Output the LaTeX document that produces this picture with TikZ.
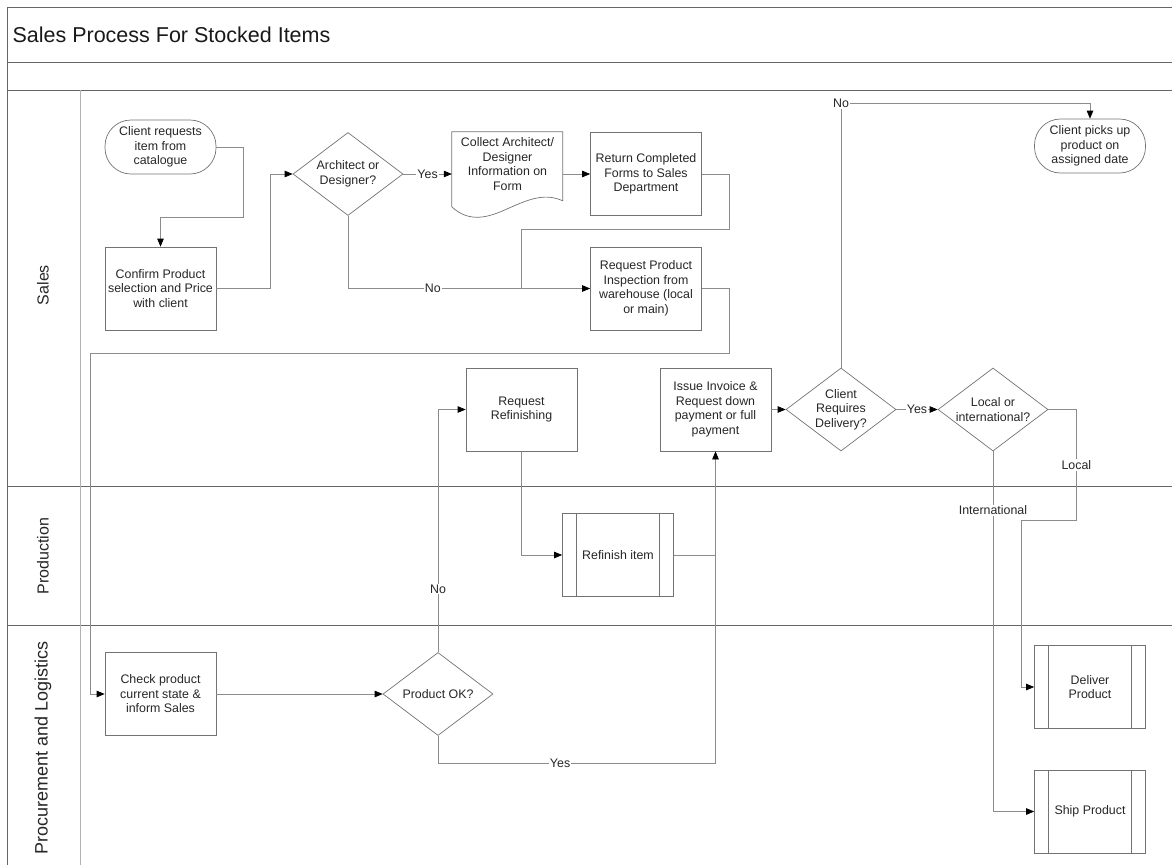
\documentclass[tikz,border=0pt]{standalone}
\usepackage{fontspec}
\setmainfont{Liberation Sans}
\usetikzlibrary{shapes.geometric,arrows.meta,calc}

\begin{document}
\begin{tikzpicture}[x=1pt,y=-1pt,
  txt/.style={font=\fontsize{12.4}{14.5}\selectfont, align=center, text=black!85},
  frame/.style={draw=black!60, line width=0.8pt},
  shapeline/.style={draw=black!55, line width=0.7pt},
  box/.style={txt, shapeline, rectangle, minimum width=111pt, minimum height=83pt, inner sep=2pt},
  subproc/.style={box, minimum height=83pt,
    path picture={\draw[shapeline]
      ([xshift=14pt]path picture bounding box.north west) -- ([xshift=14pt]path picture bounding box.south west)
      ([xshift=-14pt]path picture bounding box.north east) -- ([xshift=-14pt]path picture bounding box.south east);}},
  term/.style={txt, shapeline, rectangle, rounded corners=26pt, minimum width=111pt, minimum height=54pt, inner sep=1pt},
  dec/.style={shapeline, diamond, aspect=1.33, minimum width=110pt, minimum height=83pt, inner sep=0pt},
  conn/.style={draw=black!45, line width=0.7pt},
  arr/.style={conn, -{Triangle[length=8pt,width=6.5pt,color=black]}},
  lbl/.style={txt, fill=white, inner sep=1pt},
  lane/.style={font=\fontsize{16}{19}\selectfont, rotate=90, text=black!85}]

\useasboundingbox (0,0) rectangle (1172,865);

% pool frame, title strip and lanes
\draw[frame] (1172,7) -- (7,7) -- (7,865);
\draw[frame] (7,62) -- (1172,62);
\draw[frame] (7,90) -- (1172,90);
\draw[frame] (7,486) -- (1172,486);
\draw[frame] (7,625) -- (1172,625);
\draw[draw=black!30, line width=0.8pt] (80,90) -- (80,865);

\node[anchor=west, font=\fontsize{21.5}{25}\selectfont, text=black!90] (title) at (9,35) {Sales Process For Stocked Items};
\node[lane] (laneSales) at (43,285) {Sales};
\node[lane] (laneProd) at (43,556) {Production};
\node[lane, font=\fontsize{18}{21}\selectfont] (laneProc) at (43,748) {Procurement and Logistics};

% Sales lane
\node[term] (start) at (160.5,147) {Client requests\\item from\\catalogue};
\node[box] (confirm) at (160.5,288.5) {Confirm Product\\selection and Price\\with client};
\node[dec, label={[txt]center:Architect or\\Designer?}] (arch) at (348,174) {};
\node[txt, minimum width=111pt, minimum height=64pt, inner sep=0pt] (collect) at (507.5,164) {Collect Architect/\\Designer\\Information on\\Form};
\begin{scope}[shift={(collect.north west)}]
  \draw[shapeline] (0,0) -- (111,0) -- (111,69)
    .. controls (93,61) and (78,67) .. (55.5,77)
    .. controls (38,85) and (18,92) .. (0,75) -- cycle;
\end{scope}
\node[box] (ret) at (646,174) {Return Completed\\Forms to Sales\\Department};
\node[box] (insp) at (646,288.5) {Request Product\\Inspection from\\warehouse (local\\or main)};
\node[box] (refreq) at (521.5,409.5) {Request\\Refinishing};
\node[box] (invoice) at (715.5,409.5) {Issue Invoice \&\\Request down\\payment or full\\payment};
\node[dec, label={[txt]center:Client\\Requires\\Delivery?}] (deliv) at (841,409.5) {};
\node[dec, label={[txt]center:Local or\\international?}] (locint) at (993,409.5) {};
\node[term] (pickup) at (1090,146) {Client picks up\\product on\\assigned date};

% Production lane
\node[subproc] (refin) at (618,555) {Refinish item};

% Procurement and Logistics lane
\node[box] (check) at (160.5,694) {Check product\\current state \&\\inform Sales};
\node[dec, label={[txt]center:Product OK?}] (prodok) at (438,694) {};
\node[subproc] (deliver) at (1090,687) {Deliver\\Product};
\node[subproc] (ship) at (1090,811.5) {Ship Product};

% connectors
\draw[arr] (start.east) -- ++(27,0) |- ([yshift=29pt]confirm.north) -- (confirm.north);
\draw[arr] (confirm.east) -- ++(54,0) |- (arch.west);
\draw[arr] (arch.east) -- (arch.east -| collect.west) node[midway, lbl] {Yes};
\draw[arr] (ret.west -| collect.east) -- (ret.west);
\draw[conn] (ret.east) -- ++(27,0) -- ++(0,55) -- ++(-208,0) -- ++(0,59);
\draw[arr] (arch.south) |- (insp.west) node[pos=0.675, lbl] {No};
\draw[arr] (insp.east) -- ++(27,0) -- ++(0,65) -| ([xshift=-14.5pt]check.west) -- (check.west);
\draw[arr] (check.east) -- (prodok.west);
\draw[arr] (prodok.north) |- (refreq.west) node[pos=0.13, lbl] {No};
\draw[arr] (prodok.south) -- ++(0,27) -| (invoice.south) node[pos=0.22, lbl] {Yes};
\draw[arr] (refreq.south) |- (refin.west);
\draw[conn] (refin.east) -- (refin.east -| invoice.south);
\draw[arr] (invoice.east) -- (deliv.west);
\draw[arr] (deliv.east) -- (locint.west) node[midway, lbl] {Yes};
\draw[arr] (deliv.north) |- ([yshift=15pt]pickup.north) node[pos=0.5, lbl] {No} -- (pickup.north);
\draw[arr] (locint.east) -- ++(28,0) -- ++(0,111) node[midway, lbl] {Local} -| ([xshift=-13pt]deliver.west) -- (deliver.west);
\draw[arr] (locint.south) |- (ship.west) node[pos=0.082, lbl] {International};

\end{tikzpicture}
\end{document}
